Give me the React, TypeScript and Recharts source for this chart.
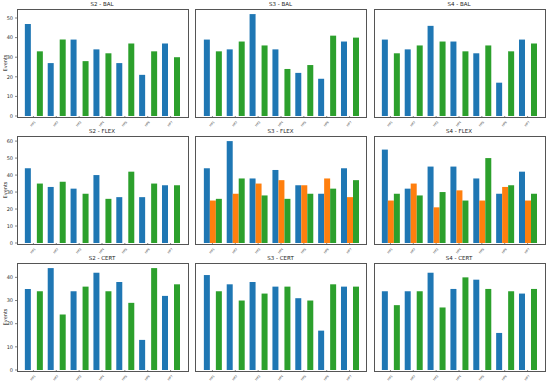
import { BarChart, Bar, XAxis, YAxis } from 'recharts';

const sites = ['HP1', 'HP2', 'HP3', 'HP4', 'HP5', 'HP6', 'HP7'];
const none = [null, null, null, null, null, null, null];

// BAL
const s2BalBlue = [47, 27, 39, 34, 27, 21, 37];
const s2BalGreen = [33, 39, 28, 32, 37, 33, 30];
const s3BalBlue = [39, 34, 52, 34, 22, 19, 38];
const s3BalGreen = [33, 38, 36, 24, 26, 41, 40];
const s4BalBlue = [39, 34, 46, 38, 32, 17, 39];
const s4BalGreen = [32, 36, 38, 33, 36, 33, 37];

// FLEX
const s2FlexBlue = [44, 33, 32, 40, 27, 27, 34];
const s2FlexGreen = [35, 36, 29, 26, 42, 35, 34];
const s3FlexBlue = [44, 60, 38, 43, 34, 29, 44];
const s3FlexOrange = [25, 29, 35, 37, 34, 38, 27];
const s3FlexGreen = [26, 38, 28, 26, 29, 32, 37];
const s4FlexBlue = [55, 32, 45, 45, 38, 29, 42];
const s4FlexOrange = [25, 35, 21, 31, 25, 33, 25];
const s4FlexGreen = [29, 28, 30, 25, 50, 34, 29];

// CERT
const s2CertBlue = [35, 44, 34, 42, 38, 13, 32];
const s2CertGreen = [34, 24, 36, 34, 29, 44, 37];
const s3CertBlue = [41, 37, 38, 36, 31, 17, 36];
const s3CertGreen = [34, 30, 33, 36, 30, 37, 36];
const s4CertBlue = [34, 34, 42, 35, 39, 16, 33];
const s4CertGreen = [28, 34, 27, 40, 35, 34, 35];

const rowMax = [54.6, 63, 46.2];
const rowTicks = [
  [0, 10, 20, 30, 40, 50],
  [0, 10, 20, 30, 40, 50, 60],
  [0, 10, 20, 30, 40],
];

const panels = [
  { title: 'S2 - BAL', row: 0, col: 0, blue: s2BalBlue, orange: none, green: s2BalGreen },
  { title: 'S3 - BAL', row: 0, col: 1, blue: s3BalBlue, orange: none, green: s3BalGreen },
  { title: 'S4 - BAL', row: 0, col: 2, blue: s4BalBlue, orange: none, green: s4BalGreen },
  { title: 'S2 - FLEX', row: 1, col: 0, blue: s2FlexBlue, orange: none, green: s2FlexGreen },
  { title: 'S3 - FLEX', row: 1, col: 1, blue: s3FlexBlue, orange: s3FlexOrange, green: s3FlexGreen },
  { title: 'S4 - FLEX', row: 1, col: 2, blue: s4FlexBlue, orange: s4FlexOrange, green: s4FlexGreen },
  { title: 'S2 - CERT', row: 2, col: 0, blue: s2CertBlue, orange: none, green: s2CertGreen },
  { title: 'S3 - CERT', row: 2, col: 1, blue: s3CertBlue, orange: none, green: s3CertGreen },
  { title: 'S4 - CERT', row: 2, col: 2, blue: s4CertBlue, orange: none, green: s4CertGreen },
];

const colLeft = [17, 195.5, 374];
const rowTop = [9, 136, 263];
const W = 170;
const H = 107;
const AXW = 20;
const TOP = 10;
const XH = 11;

const XTick = (props: any) => {
  const { x, y, payload } = props;
  return (
    <g transform={`translate(${x + 1},${y + 1})`}>
      <text transform="rotate(-45)" textAnchor="end" fontSize={3} fill="#333" dy={2}>
        {payload.value}
      </text>
    </g>
  );
};

const Panel = ({ p }: { p: (typeof panels)[number] }) => {
  const data = sites.map((s, i) => ({ site: s, blue: p.blue[i], orange: p.orange[i], green: p.green[i] }));
  const left = colLeft[p.col];
  const top = rowTop[p.row];
  return (
    <>
      <div
        style={{
          position: 'absolute',
          left: left - AXW,
          top: top - TOP,
          width: W + AXW + 2,
          height: H + TOP + XH,
        }}
      >
        <BarChart
          width={W + AXW + 2}
          height={H + TOP + XH}
          data={data}
          margin={{ top: TOP, right: 2, left: 0, bottom: 0 }}
          barGap={0}
          barCategoryGap="12.5%"
        >
          <XAxis
            dataKey="site"
            height={XH}
            padding={{ left: 5, right: 5 }}
            axisLine={false}
            tickSize={2}
            tickLine={{ stroke: '#333', strokeWidth: 0.6 }}
            tick={<XTick />}
            interval={0}
          />
          <YAxis
            width={AXW}
            domain={[0, rowMax[p.row]]}
            ticks={rowTicks[p.row]}
            allowDataOverflow
            axisLine={false}
            tickSize={2}
            tickLine={{ stroke: '#333', strokeWidth: 0.6 }}
            tick={p.col === 0 ? { fontSize: 5, fill: '#333' } : false}
          />
          <Bar dataKey="blue" fill="#1f77b4" isAnimationActive={false} />
          <Bar dataKey="orange" fill="#ff7f0e" isAnimationActive={false} />
          <Bar dataKey="green" fill="#2ca02c" isAnimationActive={false} />
        </BarChart>
      </div>
      <div
        style={{
          position: 'absolute',
          left: left - 0.5,
          top: top - 0.5,
          width: W,
          height: H,
          border: '1px solid #555',
          pointerEvents: 'none',
        }}
      />
      <div
        style={{
          position: 'absolute',
          left,
          top: top - 8,
          width: W,
          textAlign: 'center',
          fontSize: 5.5,
          color: '#222',
          lineHeight: '7px',
        }}
      >
        {p.title}
      </div>
    </>
  );
};

export default function App() {
  return (
    <div
      style={{
        position: 'fixed',
        left: 0,
        top: 0,
        width: 550,
        height: 382,
        background: '#fff',
        fontFamily: 'DejaVu Sans, sans-serif',
        overflow: 'hidden',
      }}
    >
      {panels.map((p) => (
        <Panel key={p.title} p={p} />
      ))}
      {rowTop.map((t, i) => (
        <div
          key={i}
          style={{
            position: 'absolute',
            left: 5 - 20,
            top: t + H / 2 - 4,
            width: 40,
            textAlign: 'center',
            fontSize: 5,
            color: '#222',
            lineHeight: '8px',
            transform: 'rotate(-90deg)',
          }}
        >
          Events
        </div>
      ))}
    </div>
  );
}
